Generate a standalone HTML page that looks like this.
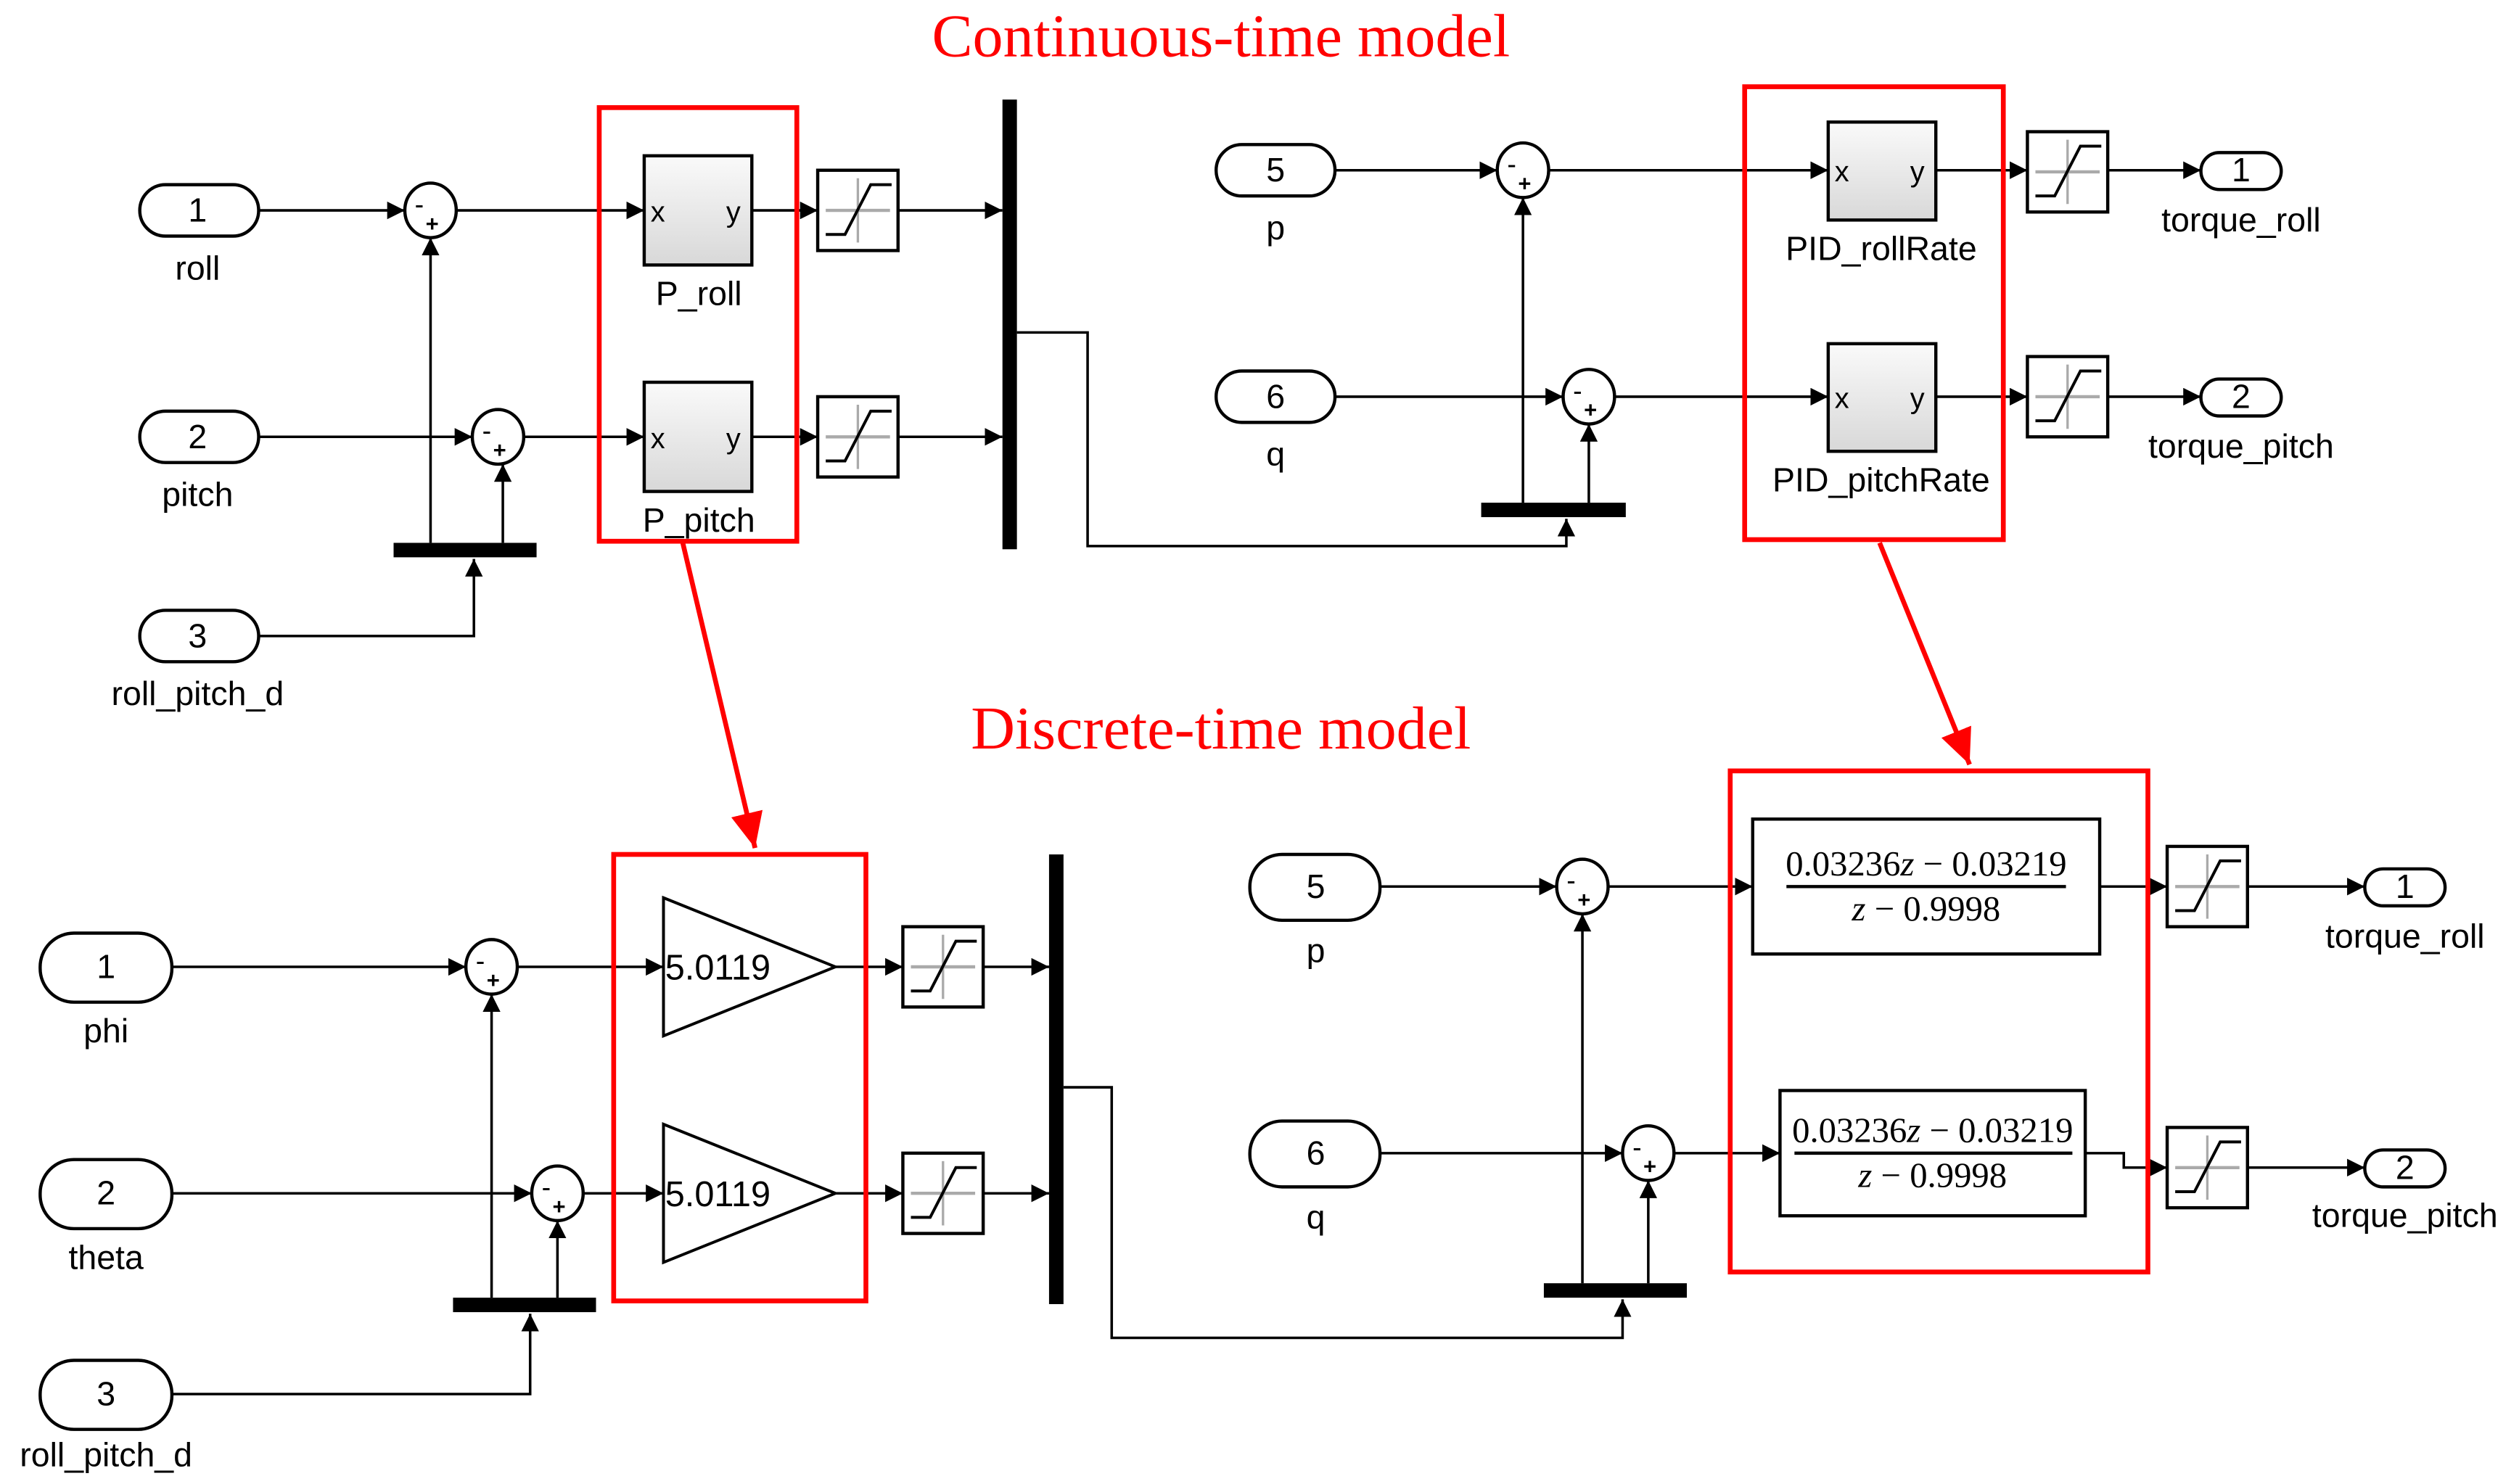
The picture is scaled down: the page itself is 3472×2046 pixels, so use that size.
<!DOCTYPE html>
<html><head><meta charset="utf-8"><style>
html,body{margin:0;padding:0;background:#fff;}
svg{display:block;}
text{font-family:"Liberation Sans",Arial,sans-serif;}
.s{font-family:"Liberation Serif","Times New Roman",serif;}
</style></head><body>
<svg width="3472" height="2046" viewBox="0 0 1568 924" xmlns="http://www.w3.org/2000/svg">
<defs>
<marker id="a" markerUnits="userSpaceOnUse" markerWidth="12" markerHeight="12" refX="11" refY="5.5" orient="auto"><path d="M0,0 L11,5.5 L0,11 z" fill="#000"/></marker>
<marker id="r" markerUnits="userSpaceOnUse" markerWidth="26" markerHeight="26" refX="22" refY="10" orient="auto"><path d="M0,0 L22,10 L0,20 z" fill="#f00"/></marker>
<g id="sat"><rect x="0" y="0" width="50" height="50" fill="#fff" stroke="#000" stroke-width="2"/><line x1="5" y1="25" x2="45" y2="25" stroke="#aaa" stroke-width="2"/><line x1="25" y1="5" x2="25" y2="45" stroke="#aaa" stroke-width="1.5"/><polyline points="5,40 17,40 33,9 46,9" fill="none" stroke="#000" stroke-width="1.8"/></g>
<g id="sum"><ellipse cx="0" cy="0" rx="16" ry="17" fill="#fff" stroke="#000" stroke-width="2"/><text x="-7" y="2" font-size="17" text-anchor="middle">-</text><text x="1" y="13" font-size="14" text-anchor="middle" font-weight="bold">+</text></g>
<linearGradient id="g" x1="0" y1="0" x2="0" y2="1"><stop offset="0" stop-color="#fafafa"/><stop offset="1" stop-color="#d8d8d8"/></linearGradient>
</defs>
<g stroke="#000" stroke-width="1.6" fill="none">
<line x1="161" y1="131" x2="252" y2="131" marker-end="url(#a)"/>
<line x1="284" y1="131" x2="401" y2="131" marker-end="url(#a)"/>
<line x1="468" y1="131" x2="509" y2="131" marker-end="url(#a)"/>
<line x1="558" y1="131" x2="624" y2="131" marker-end="url(#a)"/>
<line x1="161" y1="272" x2="294" y2="272" marker-end="url(#a)"/>
<line x1="326" y1="272" x2="401" y2="272" marker-end="url(#a)"/>
<line x1="468" y1="272" x2="509" y2="272" marker-end="url(#a)"/>
<line x1="558" y1="272" x2="624" y2="272" marker-end="url(#a)"/>
<line x1="268" y1="338" x2="268" y2="148" marker-end="url(#a)"/>
<line x1="313" y1="338" x2="313" y2="289" marker-end="url(#a)"/>
<polyline points="161,396 295,396 295,348" marker-end="url(#a)"/>
<polyline points="633,207 677,207 677,340 975,340 975,323" marker-end="url(#a)"/>
<line x1="831" y1="106" x2="932" y2="106" marker-end="url(#a)"/>
<line x1="964" y1="106" x2="1138" y2="106" marker-end="url(#a)"/>
<line x1="1205" y1="106" x2="1262" y2="106" marker-end="url(#a)"/>
<line x1="1312" y1="106" x2="1370" y2="106" marker-end="url(#a)"/>
<line x1="831" y1="247" x2="973" y2="247" marker-end="url(#a)"/>
<line x1="1005" y1="247" x2="1138" y2="247" marker-end="url(#a)"/>
<line x1="1205" y1="247" x2="1262" y2="247" marker-end="url(#a)"/>
<line x1="1312" y1="247" x2="1370" y2="247" marker-end="url(#a)"/>
<line x1="948" y1="313" x2="948" y2="123" marker-end="url(#a)"/>
<line x1="989" y1="313" x2="989" y2="264" marker-end="url(#a)"/>
<line x1="107" y1="602" x2="290" y2="602" marker-end="url(#a)"/>
<line x1="322" y1="602" x2="413" y2="602" marker-end="url(#a)"/>
<line x1="520" y1="602" x2="562" y2="602" marker-end="url(#a)"/>
<line x1="612" y1="602" x2="653" y2="602" marker-end="url(#a)"/>
<line x1="107" y1="743" x2="331" y2="743" marker-end="url(#a)"/>
<line x1="363" y1="743" x2="413" y2="743" marker-end="url(#a)"/>
<line x1="520" y1="743" x2="562" y2="743" marker-end="url(#a)"/>
<line x1="612" y1="743" x2="653" y2="743" marker-end="url(#a)"/>
<line x1="306" y1="808" x2="306" y2="619" marker-end="url(#a)"/>
<line x1="347" y1="808" x2="347" y2="760" marker-end="url(#a)"/>
<polyline points="107,868 330,868 330,818" marker-end="url(#a)"/>
<polyline points="662,677 692,677 692,833 1010,833 1010,809" marker-end="url(#a)"/>
<line x1="859" y1="552" x2="969" y2="552" marker-end="url(#a)"/>
<line x1="1001" y1="552" x2="1091" y2="552" marker-end="url(#a)"/>
<line x1="1307" y1="552" x2="1349" y2="552" marker-end="url(#a)"/>
<line x1="1398" y1="552" x2="1472" y2="552" marker-end="url(#a)"/>
<line x1="859" y1="718" x2="1010" y2="718" marker-end="url(#a)"/>
<line x1="1042" y1="718" x2="1108" y2="718" marker-end="url(#a)"/>
<polyline points="1298,718 1322,718 1322,727 1349,727" marker-end="url(#a)"/>
<line x1="1398" y1="727" x2="1472" y2="727" marker-end="url(#a)"/>
<line x1="985" y1="799" x2="985" y2="569" marker-end="url(#a)"/>
<line x1="1026" y1="799" x2="1026" y2="735" marker-end="url(#a)"/>
</g>

<g fill="#fff" stroke="#000" stroke-width="2">
<rect x="87" y="115" width="74" height="32" rx="16"/>
<rect x="87" y="256" width="74" height="32" rx="16"/>
<rect x="87" y="380" width="74" height="32" rx="16"/>
<rect x="757" y="90" width="74" height="32" rx="16"/>
<rect x="757" y="231" width="74" height="32" rx="16"/>
<rect x="1370" y="95" width="50" height="23" rx="11.5"/>
<rect x="1370" y="236" width="50" height="23" rx="11.5"/>
<rect x="25" y="581" width="82" height="43" rx="21"/>
<rect x="25" y="722" width="82" height="43" rx="21"/>
<rect x="25" y="847" width="82" height="43" rx="21"/>
<rect x="778" y="532" width="81" height="41" rx="20"/>
<rect x="778" y="698" width="81" height="41" rx="20"/>
<rect x="1472" y="541" width="50" height="23" rx="11.5"/>
<rect x="1472" y="716" width="50" height="23" rx="11.5"/>
</g>
<g font-size="21" text-anchor="middle" fill="#000">
<text x="123" y="138">1</text><text x="123" y="279">2</text><text x="123" y="403">3</text>
<text x="794" y="113">5</text><text x="794" y="254">6</text>
<text x="1395" y="113">1</text><text x="1395" y="254">2</text>
<text x="66" y="609">1</text><text x="66" y="750">2</text><text x="66" y="875">3</text>
<text x="819" y="559">5</text><text x="819" y="725">6</text>
<text x="1497" y="559">1</text><text x="1497" y="734">2</text>
<text x="123" y="174">roll</text><text x="123" y="315">pitch</text><text x="123" y="439">roll_pitch_d</text>
<text x="794" y="149">p</text><text x="794" y="290">q</text>
<text x="1395" y="144">torque_roll</text><text x="1395" y="285">torque_pitch</text>
<text x="66" y="649">phi</text><text x="66" y="790">theta</text><text x="66" y="913">roll_pitch_d</text>
<text x="819" y="599">p</text><text x="819" y="765">q</text>
<text x="1497" y="590">torque_roll</text><text x="1497" y="764">torque_pitch</text>
<text x="435" y="190">P_roll</text><text x="435" y="331">P_pitch</text>
<text x="1171" y="162">PID_rollRate</text><text x="1171" y="306">PID_pitchRate</text>
</g>

<use href="#sum" x="268" y="131"/><use href="#sum" x="310" y="272"/>
<use href="#sum" x="948" y="106"/><use href="#sum" x="989" y="247"/>
<use href="#sum" x="306" y="602"/><use href="#sum" x="347" y="743"/>
<use href="#sum" x="985" y="552"/><use href="#sum" x="1026" y="718"/>

<g stroke="#000" stroke-width="2" fill="url(#g)">
<rect x="401" y="97" width="67" height="68"/>
<rect x="401" y="238" width="67" height="68"/>
<rect x="1138" y="76" width="67" height="61"/>
<rect x="1138" y="214" width="67" height="67"/>
</g>
<g font-size="18" fill="#000">
<text x="405" y="138">x</text><text x="452" y="138">y</text>
<text x="405" y="279">x</text><text x="452" y="279">y</text>
<text x="1142" y="113">x</text><text x="1189" y="113">y</text>
<text x="1142" y="254">x</text><text x="1189" y="254">y</text>
</g>

<use href="#sat" x="509" y="106"/><use href="#sat" x="509" y="247"/>
<use href="#sat" x="1262" y="82"/><use href="#sat" x="1262" y="222"/>
<use href="#sat" x="562" y="577"/><use href="#sat" x="562" y="718"/>
<use href="#sat" x="1349" y="527"/><use href="#sat" x="1349" y="702"/>

<g fill="#000">
<rect x="624" y="62" width="9" height="280"/>
<rect x="245" y="338" width="89" height="9"/>
<rect x="922" y="313" width="90" height="9"/>
<rect x="653" y="532" width="9" height="280"/>
<rect x="282" y="808" width="89" height="9"/>
<rect x="961" y="799" width="89" height="9"/>
</g>

<g fill="#fff" stroke="#000" stroke-width="1.8">
<polygon points="413,559 520,602 413,645"/>
<polygon points="413,700 520,743 413,786"/>
</g>
<g font-size="22" fill="#000"><text x="414" y="610">5.0119</text><text x="414" y="751">5.0119</text></g>

<g fill="#fff" stroke="#000" stroke-width="2">
<rect x="1091" y="510" width="216" height="84"/>
<rect x="1108" y="679" width="190" height="78"/>
</g>
<g font-size="22" fill="#000" text-anchor="middle">
<text class="s" x="1199" y="545">0.03236<tspan font-style="italic">z</tspan> − 0.03219</text>
<text class="s" x="1199" y="573"><tspan font-style="italic">z</tspan> − 0.9998</text>
<text class="s" x="1203" y="711">0.03236<tspan font-style="italic">z</tspan> − 0.03219</text>
<text class="s" x="1203" y="739"><tspan font-style="italic">z</tspan> − 0.9998</text>
</g>
<g stroke="#000" stroke-width="2"><line x1="1112" y1="552" x2="1286" y2="552"/><line x1="1117" y1="718" x2="1290" y2="718"/></g>

<g fill="none" stroke="#f00" stroke-width="3">
<rect x="373" y="67" width="123" height="270"/>
<rect x="1086" y="54" width="161" height="282"/>
<rect x="382" y="532" width="157" height="278"/>
<rect x="1077" y="480" width="260" height="312"/>
<line x1="425" y1="338" x2="470" y2="528" marker-end="url(#r)"/>
<line x1="1170" y1="338" x2="1226" y2="476" marker-end="url(#r)"/>
</g>
<g fill="#f00" font-size="38" text-anchor="middle">
<text class="s" x="760" y="35">Continuous-time model</text>
<text class="s" x="760" y="466">Discrete-time model</text>
</g>
</svg>
</body></html>
